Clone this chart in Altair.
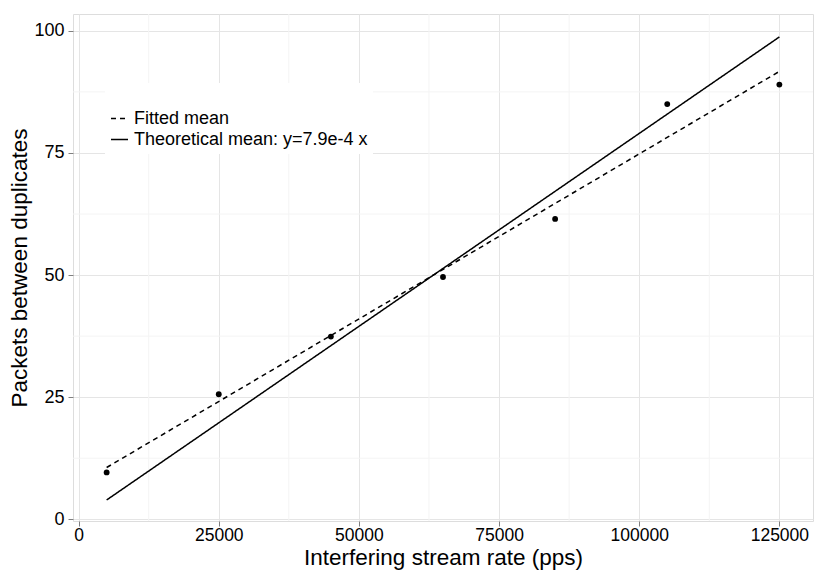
import altair as alt
import pandas as pd

# ---- data ----
rate = [5000, 25000, 45000, 65000, 85000, 105000, 125000]
packets = [9.6, 25.6, 37.4, 49.6, 61.5, 85.0, 89.0]

series_names = ["Fitted mean", "Theoretical mean: y=7.9e-4 x"]
line_x = [5000, 125000]
fitted_y = [10.6, 91.7]
theory_y = [3.95, 98.75]

x_major = [0, 25000, 50000, 75000, 100000, 125000]
x_minor = [12500, 37500, 62500, 87500, 112500]
y_major = [0, 25, 50, 75, 100]
y_minor = [12.5, 37.5, 62.5, 87.5]

x_domain = [-1000, 131000]
y_domain = [-0.35, 103.45]

FONT = "Liberation Sans"

pts = pd.DataFrame({"x": rate, "y": packets})
lines = pd.DataFrame({
    "x": line_x + line_x,
    "y": fitted_y + theory_y,
    "series": [series_names[0]] * 2 + [series_names[1]] * 2,
})
xmin_df = pd.DataFrame({"x": x_minor})
ymin_df = pd.DataFrame({"y": y_minor})

xs = alt.Scale(domain=x_domain, nice=False, zero=False)
ys = alt.Scale(domain=y_domain, nice=False, zero=False)

x_axis = alt.Axis(
    values=x_major, title="Interfering stream rate (pps)", format="d",
    grid=True, gridColor="#E5E5E5", gridWidth=1,
    domain=False, ticks=True, tickSize=5, tickColor="#7F7F7F",
    labelFontSize=17.5, labelColor="black", labelFont=FONT, labelPadding=0,
    labelFlush=False,
    titleFontSize=22.5, titleFont=FONT, titleFontWeight="normal",
    titleColor="black", titlePadding=3,
)
y_axis = alt.Axis(
    values=y_major, title="Packets between duplicates", format="d",
    grid=True, gridColor="#E5E5E5", gridWidth=1,
    domain=False, ticks=True, tickSize=5, tickColor="#7F7F7F",
    labelFontSize=18, labelColor="black", labelFont=FONT, labelPadding=4,
    labelFlush=False,
    titleFontSize=22.5, titleFont=FONT, titleFontWeight="normal",
    titleColor="black", titlePadding=2,
)

X = alt.X("x:Q", scale=xs, axis=x_axis)
Y = alt.Y("y:Q", scale=ys, axis=y_axis)

minor_x = alt.Chart(xmin_df).mark_rule(color="#F4F4F4", strokeWidth=1).encode(x=X)
minor_y = alt.Chart(ymin_df).mark_rule(color="#F4F4F4", strokeWidth=1).encode(y=Y)

line_layer = alt.Chart(lines).mark_line(color="black", strokeWidth=1.5).encode(
    x=X,
    y=Y,
    strokeDash=alt.StrokeDash(
        "series:N",
        scale=alt.Scale(domain=series_names, range=[[5, 4], [1, 0]]),
        legend=alt.Legend(
            title=" ", titleFontSize=16, titlePadding=5,
            orient="none", legendX=32, legendY=69,
            symbolType="stroke", symbolSize=289, symbolStrokeWidth=1.5,
            symbolStrokeColor="black",
            labelFontSize=18, labelFont=FONT, labelColor="black",
            labelOffset=5, rowPadding=2, labelLimit=0,
            fillColor="white", padding=5,
        ),
    ),
    detail="series:N",
)

point_layer = alt.Chart(pts).mark_circle(color="black", size=34, opacity=1).encode(
    x=X,
    y=Y,
)

chart = alt.layer(minor_x, minor_y, line_layer, point_layer).properties(
    width=740, height=507,
    autosize=alt.AutoSizeParams(type="none"),
    padding={"left": 65, "top": 6, "right": 9, "bottom": 52},
).configure_view(
    stroke="#7F7F7F", strokeWidth=1
).configure(
    background="white"
)

chart.save("out.html", embed_options={"renderer": "svg", "actions": False})
